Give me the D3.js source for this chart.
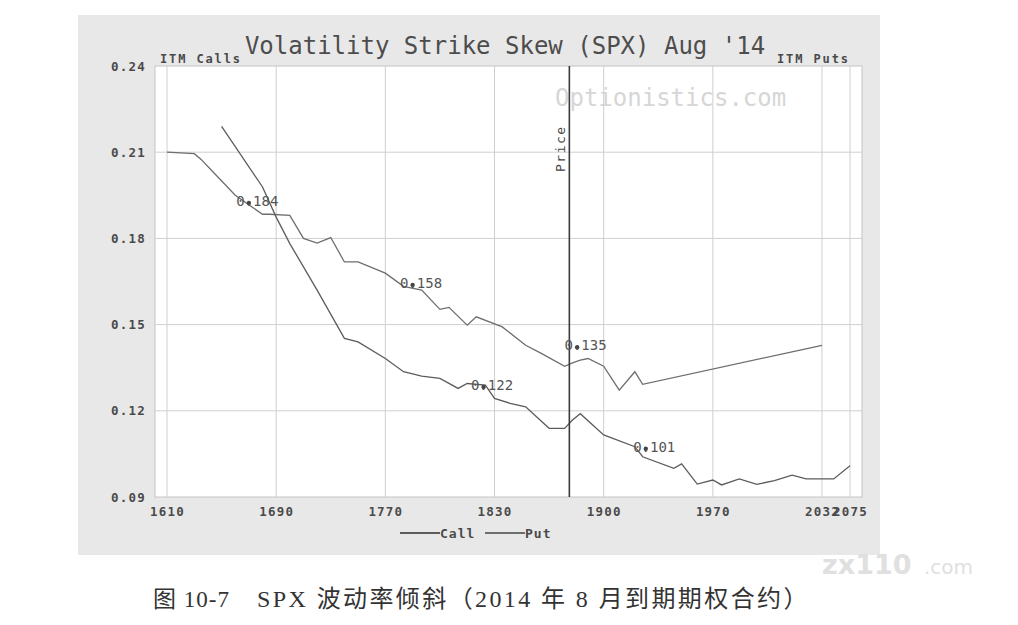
<!DOCTYPE html>
<html>
<head>
<meta charset="utf-8">
<script src="https://cdn.jsdelivr.net/npm/d3@7"></script>
<style>
  body { margin: 0; background: #fff; }
</style>
</head>
<body>
<svg id="chart"></svg>
<script>
// chart values
const strikeTicks = [1610, 1690, 1770, 1830, 1900, 1970, 2032, 2075];
const volTicks = [0.09, 0.12, 0.15, 0.18, 0.21, 0.24];

const putStrikes = [1610, 1630, 1635, 1645, 1660, 1680, 1685, 1700, 1710, 1720, 1730, 1740, 1750, 1770,
                    1780, 1790, 1800, 1805, 1815, 1820, 1835, 1850, 1860, 1875, 1880, 1885, 1890, 1900,
                    1910, 1920, 1925, 2032];
const putVols = [0.210, 0.2095, 0.2075, 0.2025, 0.195, 0.1884, 0.1884, 0.188, 0.180, 0.1784, 0.1803, 0.1718,
                 0.1718, 0.1679, 0.1633, 0.162, 0.1553, 0.156, 0.1498, 0.1527, 0.1492, 0.1428, 0.140, 0.1355,
                 0.1367, 0.1376, 0.1382, 0.1355, 0.1272, 0.1336, 0.1292, 0.1428];

const callStrikes = [1650, 1680, 1690, 1700, 1720, 1740, 1750, 1770, 1780, 1790, 1800, 1810, 1815, 1825,
                     1830, 1840, 1850, 1865, 1875, 1880, 1885, 1900, 1920, 1925, 1945, 1950, 1960, 1970,
                     1975, 1985, 1995, 2005, 2015, 2023, 2050, 2075];
const callVols = [0.219, 0.1979, 0.1874, 0.1782, 0.162, 0.1452, 0.144, 0.1382, 0.1336, 0.1321, 0.1313, 0.1278,
                  0.1295, 0.1289, 0.1243, 0.1226, 0.1214, 0.1139, 0.1139, 0.1168, 0.119, 0.1116, 0.1075, 0.104,
                  0.100, 0.1015, 0.0945, 0.0959, 0.0942, 0.0963, 0.0944, 0.0957, 0.0976, 0.0963, 0.0963, 0.1009];

const priceLevel = 1878;

const labelTexts = ["0.184", "0.158", "0.135", "0.122", "0.101"];
const labelStrikes = [1670, 1785, 1883, 1824, 1927];
const labelVols = [0.193, 0.1645, 0.1428, 0.129, 0.1075];

const seriesNames = ["Call", "Put"];
const seriesColors = ["#5c5c5c", "#6e6e6e"];

// layout
const svgWidth = 1018, svgHeight = 625;
const frame = {x: 78, y: 15, w: 802, h: 540};
const plot = {left: 155, right: 862, top: 66, bottom: 497};
const tickInset = 12;
const mono = "'DejaVu Sans Mono', monospace";
const bookFont = "'Liberation Serif', 'Noto Sans CJK SC', serif";

const chart = d3.select("#chart")
    .attr("width", svgWidth)
    .attr("height", svgHeight)
    .attr("font-family", mono);

// x positions: evenly spaced slots for the first ticks, last one pinned near the right edge
const slot = (plot.right - plot.left - 2 * tickInset - 28) / (strikeTicks.length - 2);
const xRange = strikeTicks.map(function(d, i) {
    return i < strikeTicks.length - 1 ? plot.left + tickInset + i * slot : plot.right - tickInset;
});
const xScale = d3.scaleLinear().domain(strikeTicks).range(xRange);
const yScale = d3.scaleLinear().domain([0.09, 0.24]).range([plot.bottom, plot.top]);

// grey outer panel
chart.append("rect")
    .attr("x", frame.x).attr("y", frame.y)
    .attr("width", frame.w).attr("height", frame.h)
    .attr("fill", "#e8e8e8");

// plot area
chart.append("rect")
    .attr("x", plot.left).attr("y", plot.top)
    .attr("width", plot.right - plot.left).attr("height", plot.bottom - plot.top)
    .attr("fill", "#fff")
    .attr("stroke", "#c4c4c4");

// watermark
chart.append("text")
    .attr("x", 555).attr("y", 106)
    .attr("font-size", 24)
    .attr("fill", "#d6d6d6")
    .text("Optionistics.com");

// grid
const grid = chart.append("g");
grid.selectAll(".vgrid")
    .data(strikeTicks)
    .enter()
    .append("line")
    .attr("x1", function(d) { return xScale(d); })
    .attr("x2", function(d) { return xScale(d); })
    .attr("y1", plot.top).attr("y2", plot.bottom)
    .attr("stroke", "#cfcfcf");

grid.selectAll(".hgrid")
    .data(volTicks.slice(1, -1))
    .enter()
    .append("line")
    .attr("x1", plot.left).attr("x2", plot.right)
    .attr("y1", function(d) { return yScale(d); })
    .attr("y2", function(d) { return yScale(d); })
    .attr("stroke", "#cfcfcf");

// axes (labels only, the grid carries the lines)
const xAxis = d3.axisBottom(xScale)
    .tickValues(strikeTicks)
    .tickFormat(d3.format("d"))
    .tickSize(0)
    .tickPadding(10);

const yAxis = d3.axisLeft(yScale)
    .tickValues(volTicks)
    .tickFormat(d3.format(".2f"))
    .tickSize(0)
    .tickPadding(9);

const gx = chart.append("g")
    .attr("transform", "translate(0," + plot.bottom + ")")
    .call(xAxis);
const gy = chart.append("g")
    .attr("transform", "translate(" + plot.left + ",0)")
    .call(yAxis);

[gx, gy].forEach(function(g) {
    g.attr("font-family", mono);
    g.select(".domain").remove();
    g.selectAll("text")
        .attr("font-size", 12.5)
        .attr("font-weight", "bold")
        .attr("letter-spacing", 1.2)
        .attr("fill", "#4a4a4a");
});

// lines
const valueline = d3.line()
    .x(function(d) { return xScale(d[0]); })
    .y(function(d) { return yScale(d[1]); })
    .curve(d3.curveLinear);

const callData = d3.zip(callStrikes, callVols);
const putData = d3.zip(putStrikes, putVols);

chart.append("path")
    .datum(putData)
    .attr("d", valueline)
    .attr("fill", "none")
    .attr("stroke", seriesColors[1])
    .attr("stroke-width", 1.3);

chart.append("path")
    .datum(callData)
    .attr("d", valueline)
    .attr("fill", "none")
    .attr("stroke", seriesColors[0])
    .attr("stroke-width", 1.3);

// price marker
chart.append("line")
    .attr("x1", xScale(priceLevel)).attr("x2", xScale(priceLevel))
    .attr("y1", plot.top).attr("y2", plot.bottom)
    .attr("stroke", "#3a3a3a")
    .attr("stroke-width", 1.6);

chart.append("text")
    .attr("transform", "translate(" + (xScale(priceLevel) - 4) + "," + 172 + ") rotate(-90)")
    .attr("font-size", 13)
    .attr("letter-spacing", 1.5)
    .attr("fill", "#444")
    .text("Price");

// point labels: the decimal point sits on the anchor
const charW = 14 * 0.602;
const labels = chart.append("g");
labelTexts.forEach(function(t, i) {
    const ax = xScale(labelStrikes[i]), ay = yScale(labelVols[i]);
    labels.append("circle")
        .attr("cx", ax).attr("cy", ay + 2).attr("r", 2.2)
        .attr("fill", "#444");
    labels.append("text")
        .attr("x", ax - 1.5 * charW)
        .attr("y", ay + 5)
        .attr("font-size", 14)
        .attr("fill", "#555")
        .text(t);
});

// title and side notes
chart.append("text")
    .attr("x", 505).attr("y", 54)
    .attr("text-anchor", "middle")
    .attr("font-size", 24)
    .attr("fill", "#4d4d4d")
    .text("Volatility Strike Skew (SPX) Aug '14");

chart.append("text")
    .attr("x", 160).attr("y", 63)
    .attr("font-size", 12)
    .attr("font-weight", "bold")
    .attr("textLength", 80)
    .attr("fill", "#4a4a4a")
    .text("ITM Calls");

chart.append("text")
    .attr("x", 777).attr("y", 63)
    .attr("font-size", 12)
    .attr("font-weight", "bold")
    .attr("textLength", 71)
    .attr("fill", "#4a4a4a")
    .text("ITM Puts");

// legend
const legend = chart.append("g").attr("transform", "translate(400,533)");
const legendX = [0, 85];
seriesNames.forEach(function(name, i) {
    legend.append("line")
        .attr("x1", legendX[i]).attr("x2", legendX[i] + 40)
        .attr("y1", 0).attr("y2", 0)
        .attr("stroke", seriesColors[i])
        .attr("stroke-width", 2.2);
    legend.append("text")
        .attr("x", legendX[i] + 40).attr("y", 5)
        .attr("font-size", 13)
        .attr("font-weight", "bold")
        .attr("letter-spacing", 1)
        .attr("fill", "#4a4a4a")
        .text(name);
});

// book caption
const caption = chart.append("g")
    .attr("font-family", bookFont)
    .attr("font-size", 23)
    .attr("fill", "#333");
caption.append("text")
    .attr("x", 153).attr("y", 607)
    .attr("letter-spacing", 1)
    .text("图 10-7");
caption.append("text")
    .attr("x", 257).attr("y", 607)
    .attr("font-size", 24)
    .attr("letter-spacing", 2.4)
    .text("SPX 波动率倾斜（2014 年 8 月到期期权合约）");

// site watermark
const wm = chart.append("g").attr("fill", "#e0e0e0")
    .attr("font-family", "'DejaVu Sans', sans-serif");
wm.append("text")
    .attr("x", 822).attr("y", 574)
    .attr("font-size", 27)
    .attr("font-weight", "bold")
    .text("zx110");
wm.append("text")
    .attr("x", 924).attr("y", 574)
    .attr("font-size", 20)
    .text(".com");
</script>
</body>
</html>
